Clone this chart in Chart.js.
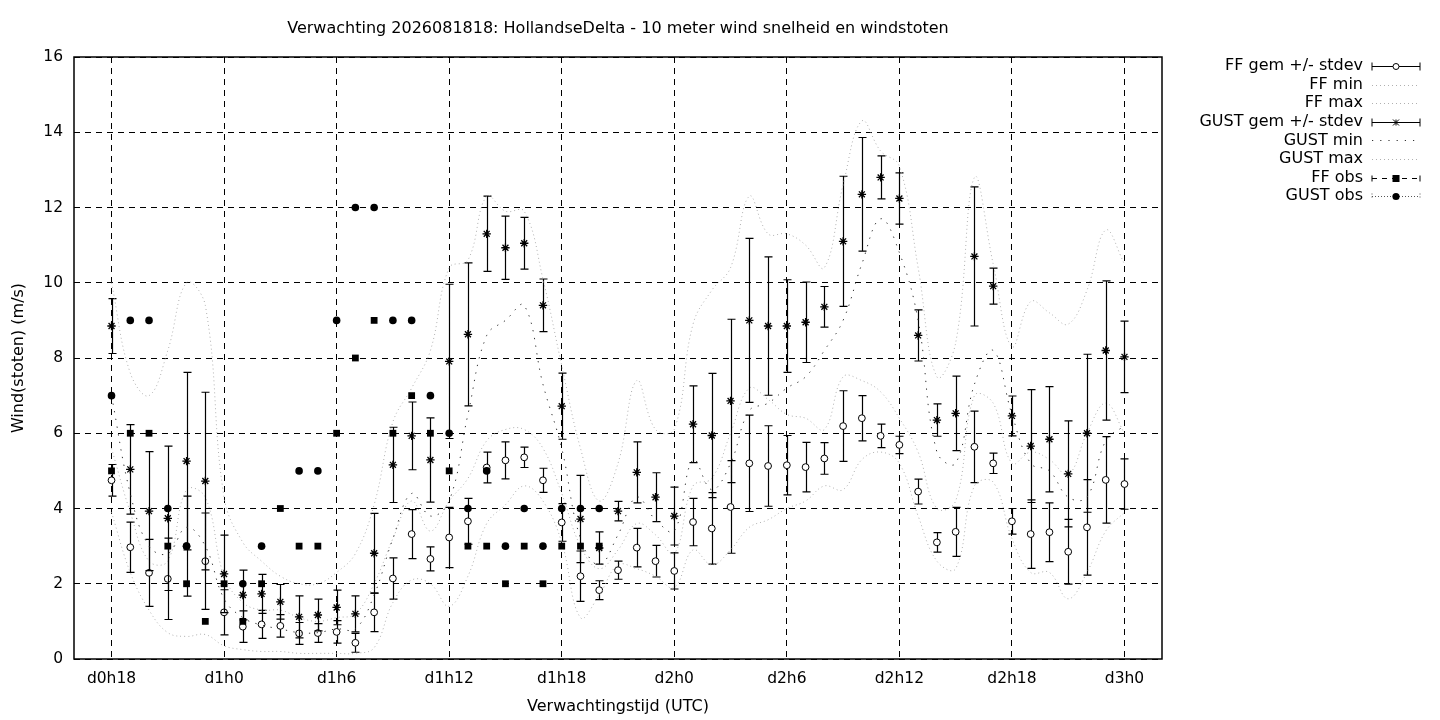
<!DOCTYPE html>
<html>
<head>
<meta charset="utf-8">
<title>HollandseDelta wind</title>
<style>
  html, body { margin: 0; padding: 0; background: #fff; }
  #wrap { width: 1440px; height: 720px; }
</style>
<script src="https://cdn.jsdelivr.net/npm/chart.js@4/dist/chart.umd.min.js"></script>
</head>
<body>
<div id="wrap"><canvas id="windChart" width="1440" height="720"></canvas></div>
<script>
// --- Data (hours after d0h18) ---
const hours = [0, 1, 2, 3, 4, 5, 6, 7, 8, 9, 10, 11, 12, 13, 14, 15, 16, 17, 18, 19,
    20, 21, 22, 23, 24, 25, 26, 27, 28, 29, 30, 31, 32, 33, 34, 35, 36, 37, 38, 39,
    40, 41, 42, 43, 44, 45, 46, 47, 48, 49, 50, 51, 52, 53, 54];
const tickHours = [0, 6, 12, 18, 24, 30, 36, 42, 48, 54];
const tickLabels = ['d0h18', 'd1h0', 'd1h6', 'd1h12', 'd1h18', 'd2h0', 'd2h6', 'd2h12', 'd2h18', 'd3h0'];

const ffMean = [4.75, 2.97, 2.29, 2.13, 3.0, 2.6, 1.24, 0.86, 0.92, 0.88,
    0.68, 0.69, 0.72, 0.43, 1.24, 2.14, 3.32, 2.66, 3.23, 3.66,
    5.09, 5.28, 5.36, 4.75, 3.63, 2.2, 1.83, 2.36, 2.96, 2.6,
    2.34, 3.64, 3.47, 4.04, 5.2, 5.13, 5.15, 5.1, 5.33, 6.19,
    6.4, 5.93, 5.69, 4.45, 3.1, 3.38, 5.64, 5.2, 3.66, 3.32,
    3.37, 2.85, 3.5, 4.76, 4.65];
const ffSd = [0.42, 0.67, 0.89, 1.08, 1.33, 1.28, 0.6, 0.42, 0.37, 0.3,
    0.29, 0.25, 0.3, 0.25, 0.51, 0.55, 0.65, 0.32, 0.8, 0.61,
    0.41, 0.49, 0.27, 0.32, 0.5, 0.67, 0.25, 0.24, 0.51, 0.42,
    0.48, 0.63, 0.95, 1.23, 1.28, 1.07, 0.79, 0.66, 0.42, 0.94,
    0.6, 0.31, 0.23, 0.33, 0.26, 0.65, 0.95, 0.27, 0.34, 0.91,
    0.78, 0.86, 1.27, 1.15, 0.67];
const ffMin = [3.9, 2.3, 1.3, 0.7, 0.6, 0.65, 0.35, 0.25, 0.2, 0.2,
    0.15, 0.15, 0.15, 0.15, 0.3, 1.5, 2.1, 2.0, 1.4, 2.2,
    3.6, 4.1, 4.6, 4.2, 3.1, 1.1, 1.7, 2.5, 2.4, 2.2,
    1.9, 2.9, 2.5, 2.9, 3.5, 3.7, 4.0, 4.2, 4.6, 4.5,
    5.3, 5.5, 5.2, 3.8, 2.6, 2.4, 4.6, 4.7, 3.2, 2.3,
    2.3, 1.6, 2.3, 3.4, 3.9];
const ffMax = [5.6, 3.9, 2.6, 2.6, 4.5, 4.3, 2.2, 1.5, 1.3, 1.3,
    1.1, 1.0, 1.1, 1.2, 2.0, 3.2, 4.2, 3.4, 4.2, 4.8,
    5.8, 6.1, 6.1, 5.6, 4.4, 3.0, 2.4, 2.9, 3.6, 3.3,
    2.8, 4.6, 4.8, 6.0, 7.2, 6.9, 6.5, 6.4, 6.1, 7.5,
    7.4, 7.1, 6.4, 5.5, 4.0, 4.2, 7.0, 6.8, 5.2, 5.5,
    5.3, 4.9, 6.0, 6.8, 6.0];

const gustMean = [8.85, 5.04, 3.93, 3.74, 5.26, 4.73, 2.26, 1.7, 1.73, 1.52,
    1.12, 1.17, 1.37, 1.2, 2.81, 5.16, 5.93, 5.29, 7.91, 8.63,
    11.3, 10.93, 11.05, 9.4, 6.72, 3.72, 2.95, 3.93, 4.96, 4.3,
    3.8, 6.24, 5.94, 6.86, 9.0, 8.85, 8.85, 8.95, 9.36, 11.1,
    12.35, 12.8, 12.24, 8.6, 6.35, 6.53, 10.7, 9.91, 6.46, 5.66,
    5.84, 4.92, 6.0, 8.2, 8.03];
const gustSd = [0.73, 1.19, 1.58, 1.92, 2.36, 2.36, 1.03, 0.66, 0.52, 0.46,
    0.56, 0.42, 0.46, 0.48, 1.06, 1.0, 0.9, 1.12, 2.05, 1.9,
    1.0, 0.84, 0.69, 0.7, 0.88, 1.16, 0.43, 0.26, 0.81, 0.65,
    0.77, 1.02, 1.65, 2.17, 2.18, 1.84, 1.23, 1.07, 0.54, 1.73,
    1.51, 0.57, 0.68, 0.68, 0.43, 0.99, 1.85, 0.48, 0.53, 1.5,
    1.4, 1.41, 2.1, 1.85, 0.95];
const gustMin = [7.0, 4.4, 3.0, 2.8, 3.5, 3.0, 1.6, 1.1, 0.9, 0.8,
    0.7, 0.7, 0.8, 0.8, 1.7, 3.2, 4.4, 3.8, 4.2, 6.5,
    8.6, 9.0, 9.4, 7.3, 5.6, 3.2, 2.5, 3.3, 4.3, 3.7,
    3.4, 5.3, 4.5, 5.2, 6.6, 6.8, 7.2, 7.5, 8.2, 9.0,
    10.5, 11.7, 10.8, 9.0, 5.5, 5.2, 7.3, 8.2, 6.5, 5.2,
    5.0, 4.3, 4.3, 5.8, 6.2];
const gustMax = [10.0, 7.6, 7.0, 8.2, 10.0, 9.4, 4.3, 3.1, 2.6, 2.2,
    2.0, 2.0, 2.3, 2.8, 4.1, 6.3, 7.2, 8.2, 10.4, 10.6,
    12.3, 11.9, 11.9, 10.1, 7.8, 5.6, 4.2, 5.2, 7.4, 6.1,
    6.1, 8.9, 9.8, 10.4, 12.3, 11.3, 11.3, 11.0, 10.4, 12.6,
    14.3, 13.5, 13.1, 10.4, 7.5, 8.4, 12.8, 10.5, 8.3, 9.5,
    9.2, 8.9, 9.8, 11.4, 10.5];

// observations only exist for the first hours
const ffObs = [5, 6, 6, 3, 2, 1, 2, 1, 2, 4, 3, 3, 6, 8, 9, 6, 7, 6, 5, 3, 3, 2, 3, 2, 3, 3, 3];
const gustObs = [7, 9, 9, 4, 3, null, null, 2, 3, null, 5, 5, 9, 12, 12, 9, 9, 7, 6, 4, 5, 3, 4, 3, 4, 4, 4];

const titleText = 'Verwachting 2026081818: HollandseDelta - 10 meter wind snelheid en windstoten';
const legendLabels = ['FF gem +/- stdev', 'FF min', 'FF max', 'GUST gem +/- stdev',
    'GUST min', 'GUST max', 'FF obs', 'GUST obs'];

// --- Helpers ---
function toPoints(values) {
    return values.map((v, i) => ({ x: hours[i], y: v }));
}

const FONT = "'DejaVu Sans', 'Liberation Sans', sans-serif";
const LIGHT = '#b0b0b0';
const DARK_DOTS = '#333';

// error bars are drawn just before the markers of their own dataset
const errorBarPlugin = {
    id: 'errorBars',
    beforeDatasetDraw(chart, args) {
        const ds = chart.data.datasets[args.index];
        if (!ds.errors) return;
        const ctx = chart.ctx;
        const xs = chart.scales.x, ys = chart.scales.y;
        ctx.save();
        ctx.strokeStyle = '#000';
        ctx.lineWidth = 1.2;
        ctx.beginPath();
        ds.data.forEach((p, i) => {
            const px = Math.round(xs.getPixelForValue(p.x)) + 0.5;
            const top = ys.getPixelForValue(p.y + ds.errors[i]);
            const bot = ys.getPixelForValue(p.y - ds.errors[i]);
            ctx.moveTo(px, top); ctx.lineTo(px, bot);
            ctx.moveTo(px - 4, top); ctx.lineTo(px + 4, top);
            ctx.moveTo(px - 4, bot); ctx.lineTo(px + 4, bot);
        });
        ctx.stroke();
        ctx.restore();
    }
};

function drawSample(ctx, idx, x1, x2, y) {
    const xm = (x1 + x2) / 2;
    ctx.save();
    ctx.strokeStyle = '#000';
    ctx.fillStyle = '#000';
    ctx.lineWidth = 1;
    const caps = function (h) {
        ctx.setLineDash([]);
        ctx.beginPath();
        ctx.moveTo(x1, y - h); ctx.lineTo(x1, y + h);
        ctx.moveTo(x2, y - h); ctx.lineTo(x2, y + h);
        ctx.stroke();
    };
    if (idx === 0 || idx === 3) {
        ctx.beginPath();
        ctx.moveTo(x1, y); ctx.lineTo(x2, y);
        ctx.stroke();
        caps(4);
        if (idx === 0) {
            ctx.beginPath();
            ctx.fillStyle = '#fff';
            ctx.arc(xm, y, 3, 0, Math.PI * 2);
            ctx.fill();
            ctx.stroke();
        } else {
            ctx.beginPath();
            ctx.moveTo(xm - 4, y); ctx.lineTo(xm + 4, y);
            ctx.moveTo(xm - 3, y - 3); ctx.lineTo(xm + 3, y + 3);
            ctx.moveTo(xm - 3, y + 3); ctx.lineTo(xm + 3, y - 3);
            ctx.moveTo(xm, y - 3); ctx.lineTo(xm, y + 3);
            ctx.stroke();
        }
    } else if (idx === 4) {
        ctx.strokeStyle = DARK_DOTS;
        ctx.setLineDash([1.2, 7]);
        ctx.beginPath();
        ctx.moveTo(x1, y); ctx.lineTo(x2, y);
        ctx.stroke();
    } else if (idx === 6) {
        ctx.setLineDash([5, 5]);
        ctx.beginPath();
        ctx.moveTo(x1, y); ctx.lineTo(x2, y);
        ctx.stroke();
        caps(3);
        ctx.fillRect(xm - 3.5, y - 3.5, 7, 7);
    } else if (idx === 7) {
        ctx.strokeStyle = '#555';
        ctx.setLineDash([1, 2]);
        ctx.beginPath();
        ctx.moveTo(x1, y); ctx.lineTo(x2, y);
        ctx.moveTo(x1, y - 3); ctx.lineTo(x1, y + 3);
        ctx.moveTo(x2, y - 3); ctx.lineTo(x2, y + 3);
        ctx.stroke();
        ctx.beginPath();
        ctx.arc(xm, y, 3.6, 0, Math.PI * 2);
        ctx.fill();
    } else {
        ctx.strokeStyle = LIGHT;
        ctx.setLineDash([1, 3]);
        ctx.beginPath();
        ctx.moveTo(x1, y); ctx.lineTo(x2, y);
        ctx.stroke();
    }
    ctx.restore();
}

// title, frame and the gnuplot style key
const decorPlugin = {
    id: 'decor',
    afterDraw(chart) {
        const ctx = chart.ctx;
        const area = chart.chartArea;
        ctx.save();
        ctx.fillStyle = '#000';
        ctx.font = '16px ' + FONT;
        ctx.textAlign = 'center';
        ctx.textBaseline = 'middle';
        ctx.fillText(titleText, (area.left + area.right) / 2, 29);

        ctx.strokeStyle = '#000';
        ctx.lineWidth = 1.5;
        ctx.strokeRect(area.left, area.top, area.right - area.left, area.bottom - area.top);

        ctx.textAlign = 'right';
        legendLabels.forEach((label, i) => {
            const y = 66 + i * 18.6;
            ctx.fillStyle = '#000';
            ctx.fillText(label, 1363, y);
            drawSample(ctx, i, 1372, 1420, Math.round(y) + 0.5);
        });
        ctx.restore();
    }
};

// --- Chart ---
Chart.defaults.font.family = FONT;
Chart.defaults.font.size = 15.5;
Chart.defaults.color = '#000';

const lineStyle = {
    type: 'line',
    pointRadius: 0,
    borderWidth: 1,
    tension: 0.4,
    fill: false
};

new Chart(document.getElementById('windChart').getContext('2d'), {
    type: 'line',
    data: {
        datasets: [
            {
                label: 'FF gem +/- stdev', data: toPoints(ffMean), errors: ffSd, order: 8,
                showLine: false, pointStyle: 'circle', pointRadius: 3.4,
                pointBackgroundColor: '#fff', pointBorderColor: '#000', pointBorderWidth: 1
            },
            Object.assign({ label: 'FF min', data: toPoints(ffMin), order: 7, borderColor: LIGHT, borderDash: [1, 3] }, lineStyle),
            Object.assign({ label: 'FF max', data: toPoints(ffMax), order: 6, borderColor: LIGHT, borderDash: [1, 3] }, lineStyle),
            {
                label: 'GUST gem +/- stdev', data: toPoints(gustMean), errors: gustSd, order: 5,
                showLine: false, pointStyle: 'star', pointRadius: 4.2,
                pointBackgroundColor: '#000', pointBorderColor: '#000', pointBorderWidth: 1.3
            },
            Object.assign({ label: 'GUST min', data: toPoints(gustMin), order: 4, borderColor: DARK_DOTS, borderDash: [1.3, 6.5] }, lineStyle),
            Object.assign({ label: 'GUST max', data: toPoints(gustMax), order: 3, borderColor: LIGHT, borderDash: [1, 3] }, lineStyle),
            {
                label: 'FF obs', data: toPoints(ffObs), order: 2,
                showLine: false, pointStyle: 'rect', pointRadius: 4.8,
                pointBackgroundColor: '#000', pointBorderColor: '#000', pointBorderWidth: 0
            },
            {
                label: 'GUST obs', data: toPoints(gustObs), order: 1,
                showLine: false, pointStyle: 'circle', pointRadius: 3.8,
                pointBackgroundColor: '#000', pointBorderColor: '#000', pointBorderWidth: 0
            }
        ]
    },
    options: {
        responsive: false,
        animation: false,
        devicePixelRatio: 1,
        layout: { padding: { left: 0, right: 278, top: 57, bottom: 0 } },
        plugins: {
            legend: { display: false },
            tooltip: { enabled: false },
            title: { display: false }
        },
        scales: {
            x: {
                type: 'linear',
                min: -2,
                max: 56,
                afterBuildTicks: (axis) => { axis.ticks = tickHours.map(v => ({ value: v })); },
                afterFit: (axis) => { axis.height = 61; },
                ticks: {
                    padding: 11,
                    maxRotation: 0,
                    autoSkip: false,
                    callback: (value) => tickLabels[tickHours.indexOf(value)]
                },
                grid: { color: '#000', lineWidth: 1, drawTicks: false },
                border: { display: false, dash: [6, 5] },
                title: { display: true, text: 'Verwachtingstijd (UTC)', font: { size: 16 }, padding: { top: 4, bottom: 4 } }
            },
            y: {
                min: 0,
                max: 16,
                afterFit: (axis) => { axis.width = 74; },
                ticks: { stepSize: 2, padding: 11 },
                grid: { color: '#000', lineWidth: 1, drawTicks: false },
                border: { display: false, dash: [6, 5] },
                title: { display: true, text: 'Wind(stoten) (m/s)', font: { size: 16 }, padding: { top: 9, bottom: 4 } }
            }
        }
    },
    plugins: [errorBarPlugin, decorPlugin]
});
</script>
</body>
</html>
